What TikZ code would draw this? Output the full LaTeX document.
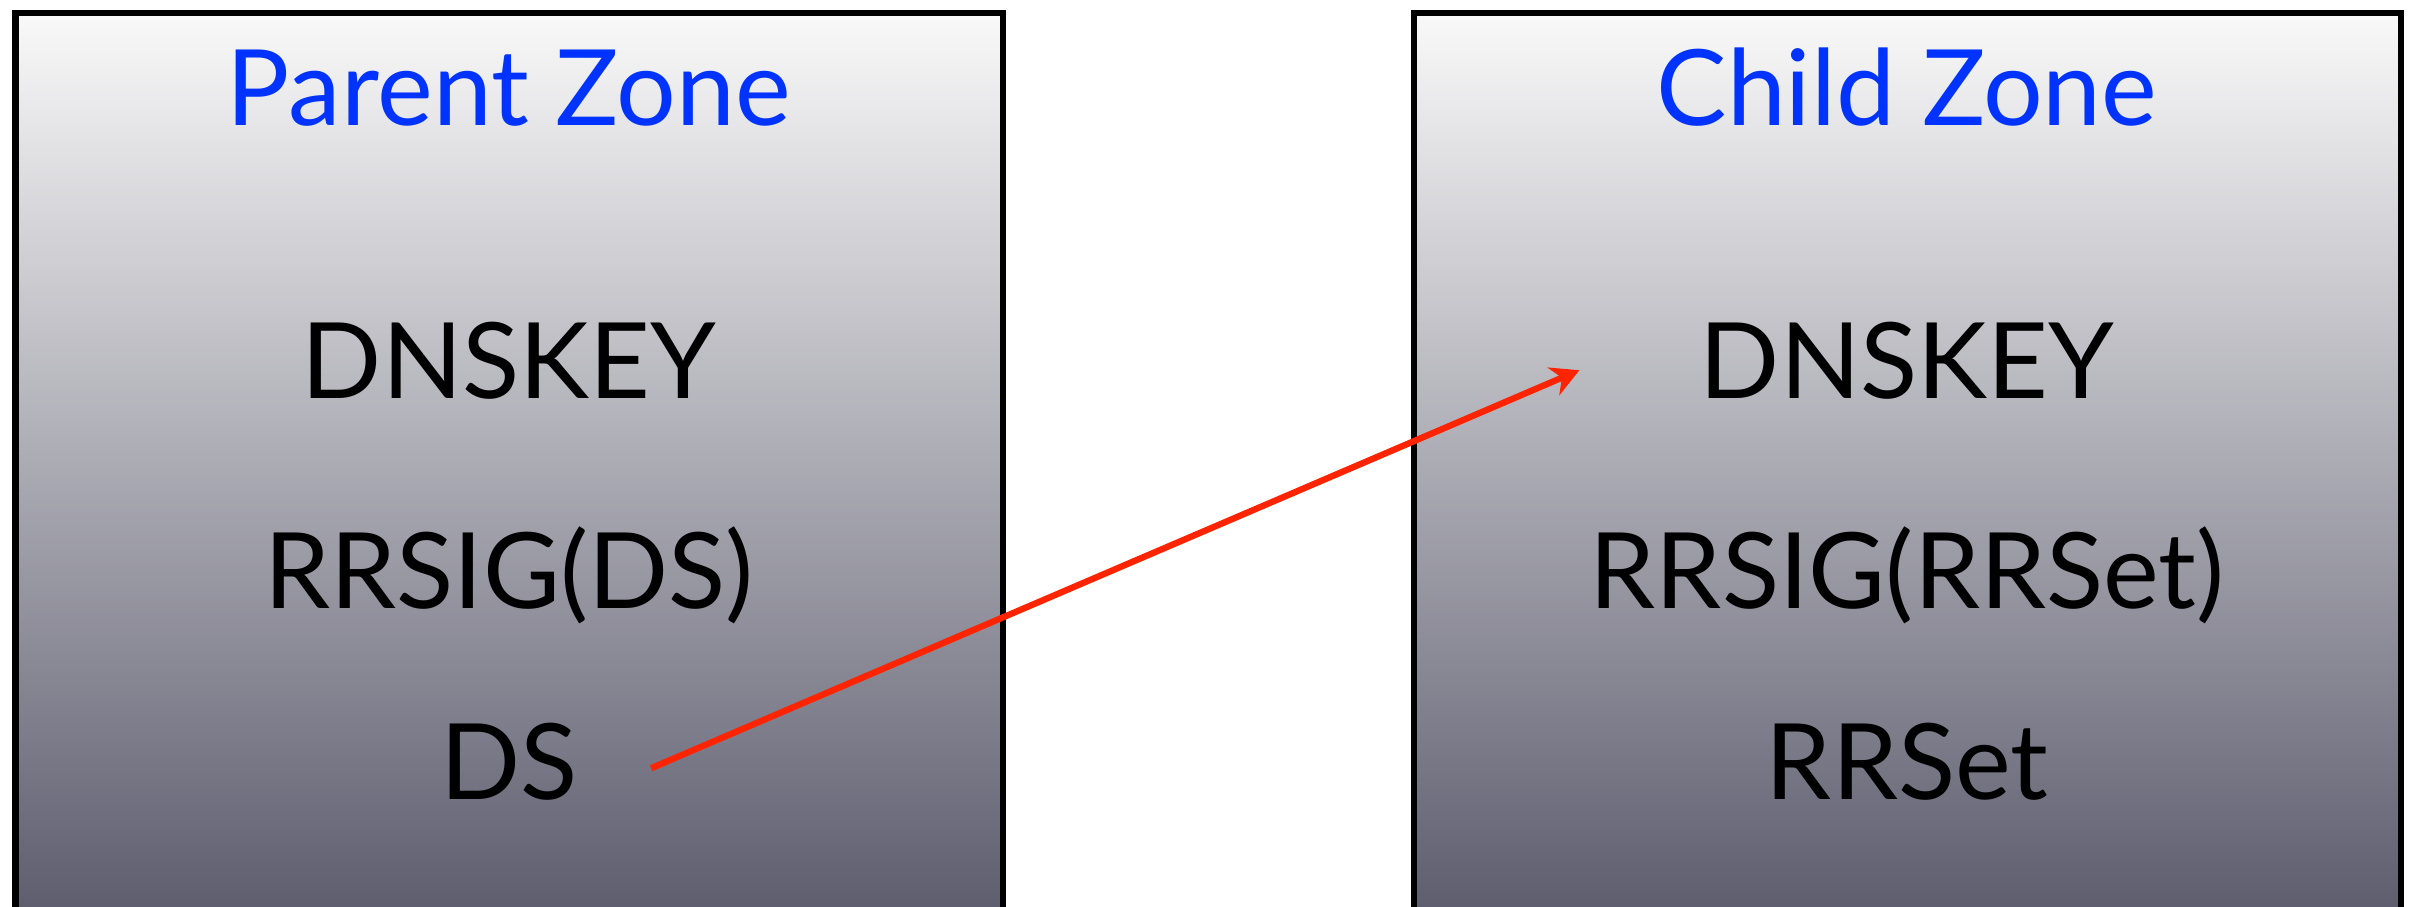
\documentclass[tikz,border=0pt]{standalone}
\usepackage{fontspec}
\setmainfont{Lato}
\usepackage{tikz}
\usetikzlibrary{arrows.meta}

\definecolor{zoneblue}{HTML}{0033FF}
\definecolor{linkred}{HTML}{FF2400}
\definecolor{zonetop}{HTML}{F9F9F9}
\definecolor{zonebottom}{HTML}{5A596B}

\begin{document}
\begin{tikzpicture}[
        > = stealth, % arrow head style
        zone/.style = {draw = black, line width = 1.8pt, top color = zonetop, bottom color = zonebottom},
        title/.style = {anchor = base, text = zoneblue, font = \fontsize{30}{36}\selectfont},
        rec/.style = {anchor = base, font = \fontsize{30}{36}\selectfont},
        link/.style = {draw = linkred, line width = 1.8pt, -{Stealth[length = 8pt, width = 8.5pt]}}
        ]

    \clip (0,0) rectangle (24.10,9.06);

    % the two zones
    \path[zone] (0.155,8.93) rectangle (10.03,-0.3);
    \path[zone] (14.14,8.93) rectangle (24.01,-0.3);

    \node[title] (parent) at (5.09,7.80) {Parent Zone};
    \node[rec] (dnskeyp) at (5.09,5.07) {DNSKEY};
    \node[rec] (rrsigp) at (5.09,2.98) {RRSIG(DS)};
    \node[rec] (ds) at (5.09,1.07) {DS};

    \node[title] (child) at (19.07,7.80) {Child Zone};
    \node[rec] (dnskeyc) at (19.07,5.07) {DNSKEY};
    \node[rec] (rrsigc) at (19.07,2.98) {RRSIG(RRSet)};
    \node[rec] (rrset) at (19.07,1.07) {RRSet};

    \draw[link] ([xshift = 0.61cm, yshift = -0.07cm]ds.east) -- ([xshift = -1.08cm, yshift = -0.09cm]dnskeyc.west);

\end{tikzpicture}
\end{document}
